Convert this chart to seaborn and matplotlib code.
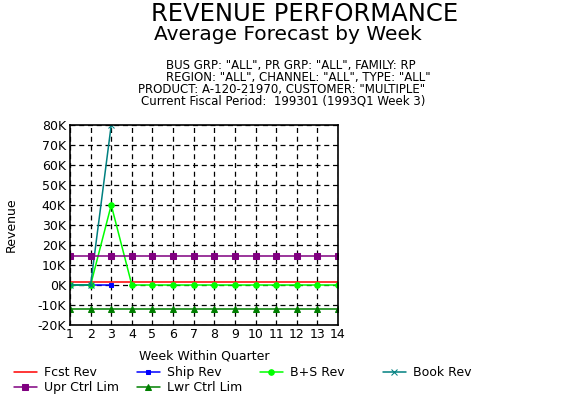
import matplotlib
matplotlib.use("Agg")
import matplotlib.pyplot as plt
import seaborn as sns
import pandas as pd

weeks = list(range(1, 15))
fcst_rev = [1500] * 14
ship_weeks = [1, 2, 3]
ship_rev = [0, 0, 0]
bs_rev = [0, 0, 40000, 0, 0, 0, 0, 0, 0, 0, 0, 0, 0, 0]
book_weeks = [1, 2, 3]
book_rev = [0, 0, 80000]
upr_ctrl = [14500] * 14
lwr_ctrl = [-11800] * 14

yticks = list(range(-20000, 80001, 10000))
ytick_labels = ["-20K", "-10K", "0K", "10K", "20K", "30K", "40K", "50K", "60K", "70K", "80K"]

sns.set_style("white")
plt.rcParams["font.family"] = ["DejaVu Sans"]
plt.rcParams["text.color"] = "black"
plt.rcParams["axes.labelcolor"] = "black"
plt.rcParams["xtick.color"] = "black"
plt.rcParams["ytick.color"] = "black"

fig = plt.figure(figsize=(5.74, 3.98), dpi=100)
ax = fig.add_axes([70 / 574, 1 - 325 / 398, 268 / 574, 200 / 398])

series = [
    ("Fcst Rev", weeks, fcst_rev, "#ff0000", None, 0),
    ("Ship Rev", ship_weeks, ship_rev, "#0000ff", "s", 3),
    ("B+S Rev", weeks, bs_rev, "#00ff00", "o", 4),
    ("Book Rev", book_weeks, book_rev, "#008080", "x", 4),
    ("Upr Ctrl Lim", weeks, upr_ctrl, "#800080", "s", 4.5),
    ("Lwr Ctrl Lim", weeks, lwr_ctrl, "#008000", "^", 4),
]
for name, x, y, color, marker, msize in series:
    df = pd.DataFrame({"week": x, "rev": y})
    sns.lineplot(data=df, x="week", y="rev", ax=ax, color=color, marker=marker,
                 markersize=msize, markeredgecolor=color, linewidth=1.1,
                 label=name, legend=False)

ax.set_xlim(1, 14)
ax.set_ylim(-20000, 80000)
ax.set_xticks(weeks)
ax.set_yticks(yticks)
ax.set_yticklabels(ytick_labels)
ax.grid(True, color="black", linestyle=(0, (4, 3)), linewidth=0.9)
for s in ax.spines.values():
    s.set_color("black")
    s.set_linewidth(1.2)
ax.tick_params(axis="both", labelsize=9, length=3, direction="inout", color="black")
ax.tick_params(axis="y", length=0, pad=3)
ax.tick_params(axis="x", pad=1)
ax.set_xlabel("Week Within Quarter", fontsize=9, labelpad=6)
ax.set_ylabel("Revenue", fontsize=9, labelpad=14)

fig.text(0.531, 1 - 14 / 398, "REVENUE PERFORMANCE", ha="center", va="center", fontsize=17.5)
fig.text(288 / 574, 1 - 35 / 398, "Average Forecast by Week", ha="center", va="center", fontsize=14.5)
sub = ['BUS GRP: "ALL", PR GRP: "ALL", FAMILY: RP',
       'REGION: "ALL", CHANNEL: "ALL", TYPE: "ALL"',
       'PRODUCT: A-120-21970, CUSTOMER: "MULTIPLE"',
       'Current Fiscal Period:  199301 (1993Q1 Week 3)']
sub_x = [291, 298, 282, 283]
for i, line in enumerate(sub):
    fig.text(sub_x[i] / 574, 1 - (66 + 11.5 * i) / 398, line, ha="center", va="center", fontsize=8.5)

# legend: row-major order, one small legend per column
handles, labels = ax.get_legend_handles_labels()
columns = [[0, 4], [1, 5], [2], [3]]
col_x = [14, 137, 260, 383]
for idx, cx in zip(columns, col_x):
    fig.legend([handles[i] for i in idx], [labels[i] for i in idx],
               loc="upper left", bbox_to_anchor=(cx / 574, 1 - 366 / 398),
               frameon=False, fontsize=9, handlelength=1.8, handletextpad=0.6,
               labelspacing=0.15, borderaxespad=0, borderpad=0)

fig.savefig("out.png", dpi=100)
